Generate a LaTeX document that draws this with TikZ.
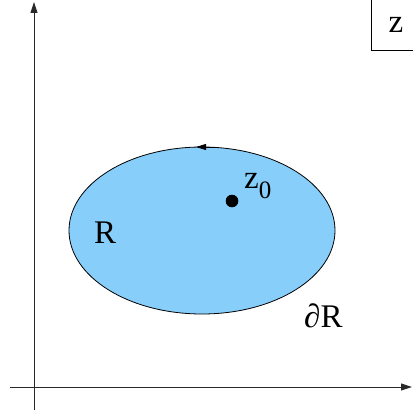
\documentclass[tikz,border=0pt]{standalone}
\usepackage{fontspec}
\setmainfont{Liberation Serif}
\usetikzlibrary{arrows.meta,shapes.geometric}
\definecolor{regionblue}{RGB}{135,206,250}
\definecolor{axisgray}{RGB}{40,40,40}
\tikzset{
  axis/.style={draw=axisgray, line width=0.9pt, -{Triangle[length=11pt,width=7pt]}},
  lbl/.style={inner sep=0pt, font=\fontsize{33}{33}\selectfont},
  boxline/.style={draw=black, line width=0.9pt}
}
\begin{document}
\begin{tikzpicture}[x=1pt,y=-1pt]
\useasboundingbox (0,0) rectangle (412,412);
% axes
\coordinate (ybot) at (34,410);
\coordinate (ytop) at (34,2);
\coordinate (xl) at (10,387);
\coordinate (xr) at (412,387);
\draw[axis] (ybot) -- (ytop);
\draw[axis] (xl) -- (xr);
% z box
\coordinate (b1) at (371,0);
\coordinate (b2) at (371,50);
\coordinate (b3) at (413,50);
\draw[boxline] (b1) -- (b2) -- (b3);
\node[lbl, anchor=base] (zlab) at (396,33) {z};
% region
\node[draw=black, line width=0.8pt, fill=regionblue, ellipse, minimum width=266pt, minimum height=167pt, inner sep=0pt] (reg) at (202,230.5) {};
\coordinate (atop1) at (214,147);
\coordinate (atop2) at (196,147);
\draw[-{Triangle[length=10pt,width=6pt]}, line width=0.8pt] (atop1) -- (atop2);
% point
\fill (232,201) circle (6.3pt) coordinate (zp);
\node[lbl, anchor=base west] (z0) at (244,188) {z\raisebox{-0.32em}{\fontsize{25}{25}\selectfont 0}};
\node[lbl, anchor=base west] (R) at (94,243) {R};
\node[lbl, anchor=base west] (dR) at (304,327) {∂R};
\end{tikzpicture}
\end{document}
